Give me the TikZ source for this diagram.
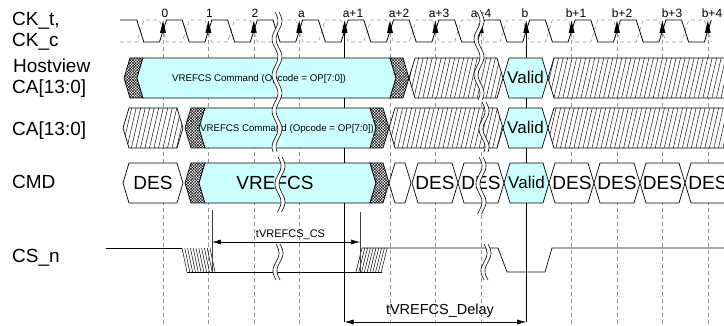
\documentclass[tikz,border=0pt]{standalone}
\usepackage{fontspec}
\setmainfont{Liberation Sans}
\usetikzlibrary{patterns,patterns.meta,arrows.meta}
\definecolor{cy}{RGB}{204,255,255}
\definecolor{dg}{RGB}{150,150,150}
\newcommand\fs[1]{\fontsize{#1}{#1}\selectfont}
\newcommand\hexseg[4]{\path[#4] (#1,#3) -- ({#1+6},{#3-20}) -- ({#2-6},{#3-20}) -- (#2,#3) -- ({#2-6},{#3+20}) -- ({#1+6},{#3+20}) -- cycle;}
\newcommand\bandL[4]{\path[#4] (#1,#3) -- ({#1+6},{#3-20}) -- ({#2+6},{#3-20}) -- (#2,#3) -- ({#2+6},{#3+20}) -- ({#1+6},{#3+20}) -- cycle;}
\newcommand\bandR[4]{\path[#4] ({#1-6},{#3-20}) -- ({#2-6},{#3-20}) -- (#2,#3) -- ({#2-6},{#3+20}) -- ({#1-6},{#3+20}) -- (#1,#3) -- cycle;}
\newcommand\brk[3]{%
 \fill[white] plot[domain=#2:#3,samples=40,variable=\t] ({#1-2+3*sin(10*(\t-#2))},\t) -- plot[domain=#3:#2,samples=40,variable=\t] ({#1+2+3*sin(10*(\t-#2))},\t) -- cycle;
 \draw[line width=0.6pt] plot[domain=#2:#3,samples=40,variable=\t] ({#1-2+3*sin(10*(\t-#2))},\t);
 \draw[line width=0.6pt] plot[domain=#2:#3,samples=40,variable=\t] ({#1+2+3*sin(10*(\t-#2))},\t);}
\tikzset{
 lbl/.style={anchor=base west, inner sep=0, font=\fs{19}},
 clab/.style={anchor=base, inner sep=0, font=\fs{12}},
 bigt/.style={anchor=base, inner sep=0, font=\fs{19}},
 validt/.style={anchor=base, inner sep=0, font=\fs{17}},
 cmdt/.style={anchor=base, inner sep=0, font=\fs{9.7}},
 vdash/.style={draw=dg, dash pattern=on 4pt off 3pt, line width=0.6pt},
 clkline/.style={line width=0.8pt},
 cclk/.style={draw=dg, dash pattern=on 4pt off 3pt, line width=0.6pt},
 cyanseg/.style={fill=cy, draw=black, line width=0.7pt},
 whiteseg/.style={fill=white, draw=black, line width=0.7pt},
 hatchseg/.style={preaction={fill=white}, pattern={Lines[angle=77,distance=4.4pt,line width=0.45pt]}, draw=black, line width=0.7pt},
 xhatch/.style={preaction={fill=white}, preaction={pattern={Lines[angle=45,distance=2pt,line width=0.45pt]}}, pattern={Lines[angle=-45,distance=2pt,line width=0.45pt]}, draw=black, line width=0.7pt},
 dimarrow/.style={<->, >={Latex[length=9pt,width=5pt]}, line width=0.6pt},
}
\begin{document}
\begin{tikzpicture}[x=1pt,y=-1pt]
\clip (0,0) rectangle (724,326);
\fill[white] (0,0) rectangle (724,326);
\def\edges{163,208.4,253.8,299.2,344.6,390,435.4,480.8,526.2,571.6,617,662.4,707.8}
% vertical reference lines
\foreach \e in {163,208.4,253.8,299.2,390,435.4,480.8,571.6,617,662.4,707.8}
  \draw[vdash] (\e,33) -- (\e,326);
\coordinate (ap1top) at (344.6,33); \coordinate (ap1bot) at (344.6,322);
\coordinate (btop) at (526.2,33); \coordinate (bbot) at (526.2,322);
\draw[line width=0.7pt] (ap1top) -- (ap1bot);
\draw[line width=0.7pt] (btop) -- (bbot);
% clocks
\draw[cclk] (120,42) \foreach \e in \edges { -- ({\e-26.2},42) -- ({\e-19.2},20) -- ({\e-3.5},20) -- ({\e+3.5},42) };
\draw[clkline] (120,20) \foreach \e in \edges { -- ({\e-26.2},20) -- ({\e-19.2},42) -- ({\e-3.5},42) -- ({\e+3.5},20) };
\foreach \e in \edges \fill (\e,20.5) -- ({\e-3},33) -- ({\e+3},33) -- cycle;
% clock labels
\node[clab] (l0) at (165,18) {0};
\node[clab] (l1) at (209.5,18) {1};
\node[clab] (l2) at (255,18) {2};
\node[clab] (la) at (301.5,18) {a};
\node[clab] (la1) at (353,18) {a+1};
\node[clab] (la2) at (399,18) {a+2};
\node[clab] (la3) at (439,18) {a+3};
\node[clab] (la4) at (481,18) {a+4};
\node[clab] (lb) at (525,18) {b};
\node[clab] (lb1) at (576,18) {b+1};
\node[clab] (lb2) at (622,18) {b+2};
\node[clab] (lb3) at (672,18) {b+3};
\node[clab] (lb4) at (712,18) {b+4};
% Hostview CA row
\bandL{124}{137}{78}{xhatch}
\hexseg{137}{396}{78}{cyanseg}
\bandR{396}{409}{78}{xhatch}
\hexseg{409}{503}{78}{hatchseg}
\hexseg{503}{548}{78}{cyanseg}
\hexseg{548}{745}{78}{hatchseg}
\node[cmdt] (hvtxt) at (259,81.5) {VREFCS Command (Opcode = OP[7:0])};
\node[validt] (hvval) at (525.5,84) {Valid};
% CA row
\hexseg{123}{183}{128}{hatchseg}
\bandL{185}{199}{128}{xhatch}
\hexseg{199}{376}{128}{cyanseg}
\bandR{376}{389}{128}{xhatch}
\hexseg{389}{503}{128}{hatchseg}
\hexseg{503}{548}{128}{cyanseg}
\hexseg{548}{745}{128}{hatchseg}
\node[cmdt] (catxt) at (287,131.5) {VREFCS Command (Opcode = OP[7:0])};
\node[validt] (caval) at (525.5,134) {Valid};
% CMD row
\hexseg{123}{183}{183}{whiteseg}
\bandL{185}{199}{183}{xhatch}
\hexseg{199}{376}{183}{cyanseg}
\bandR{376}{389}{183}{xhatch}
\hexseg{389}{411}{183}{whiteseg}
\hexseg{412}{458}{183}{whiteseg}
\hexseg{458}{504}{183}{whiteseg}
\hexseg{504}{549}{183}{cyanseg}
\hexseg{549}{594}{183}{whiteseg}
\hexseg{594}{640}{183}{whiteseg}
\hexseg{640}{685}{183}{whiteseg}
\hexseg{685}{731}{183}{whiteseg}
\node[bigt] (d0) at (153,190) {DES};
\node[bigt] (vr) at (275,190) {VREFCS};
\node[bigt] (d1) at (435,190) {DES};
\node[bigt] (d2) at (481,190) {DES};
\node[validt] (cmdval) at (526.5,189) {Valid};
\node[bigt] (d3) at (572,190) {DES};
\node[bigt] (d4) at (617,190) {DES};
\node[bigt] (d5) at (662.5,190) {DES};
\node[bigt] (d6) at (708,190) {DES};
% CS_n
\draw[line width=0.7pt] (106,248) -- (182,248);
\foreach \i in {0,...,10} \draw[line width=0.5pt] ({182+2.8*\i},248) -- ({187+2.8*\i},272);
\draw[line width=0.7pt] (187,272) -- (382,272);
\foreach \i in {0,...,9} \draw[line width=0.5pt] ({356+2.8*\i},272) -- ({362+2.8*\i},248);
\draw[line width=0.7pt] (362,248) -- (498,248) -- (507,272) -- (545,272) -- (552,248) -- (730,248);
% tVREFCS_CS
\coordinate (mL1) at (212,210); \coordinate (mL2) at (212,272);
\coordinate (mR1) at (360,212); \coordinate (mR2) at (360,272);
\draw[line width=0.7pt,draw=black!75] (mL1) -- (mL2);
\draw[line width=0.7pt,draw=black!75] (mR1) -- (mR2);
\coordinate (csL) at (212,242); \coordinate (csR) at (360,242);
\draw[dimarrow] (csL) -- (csR);
\node[anchor=base, inner sep=0, font=\fs{11}] (tcs) at (290.5,238) {tVREFCS\_CS};
% tVREFCS_Delay
\coordinate (dL) at (344.6,322); \coordinate (dR) at (526.2,322);
\draw[dimarrow] (dL) -- (dR);
\node[anchor=base, inner sep=0, font=\fs{14.5}] (tdl) at (440,315) {tVREFCS\_Delay};
% breaks
\brk{277}{12}{152}
\brk{280}{157}{212}
\brk{278}{244}{280}
\brk{479}{12}{100}
\brk{484}{102}{152}
\brk{481}{157}{214}
\brk{486}{244}{280}
% row labels
\node[lbl] (nckt) at (12,26) {CK\_t,};
\node[lbl] (nckc) at (12,47) {CK\_c};
\node[lbl] (nhv) at (13,73) {Hostview};
\node[lbl] (nca1) at (12,94) {CA[13:0]};
\node[lbl] (nca2) at (12,136) {CA[13:0]};
\node[lbl] (ncmd) at (12,189) {CMD};
\node[lbl] (ncs) at (12,263) {CS\_n};
\end{tikzpicture}
\end{document}
